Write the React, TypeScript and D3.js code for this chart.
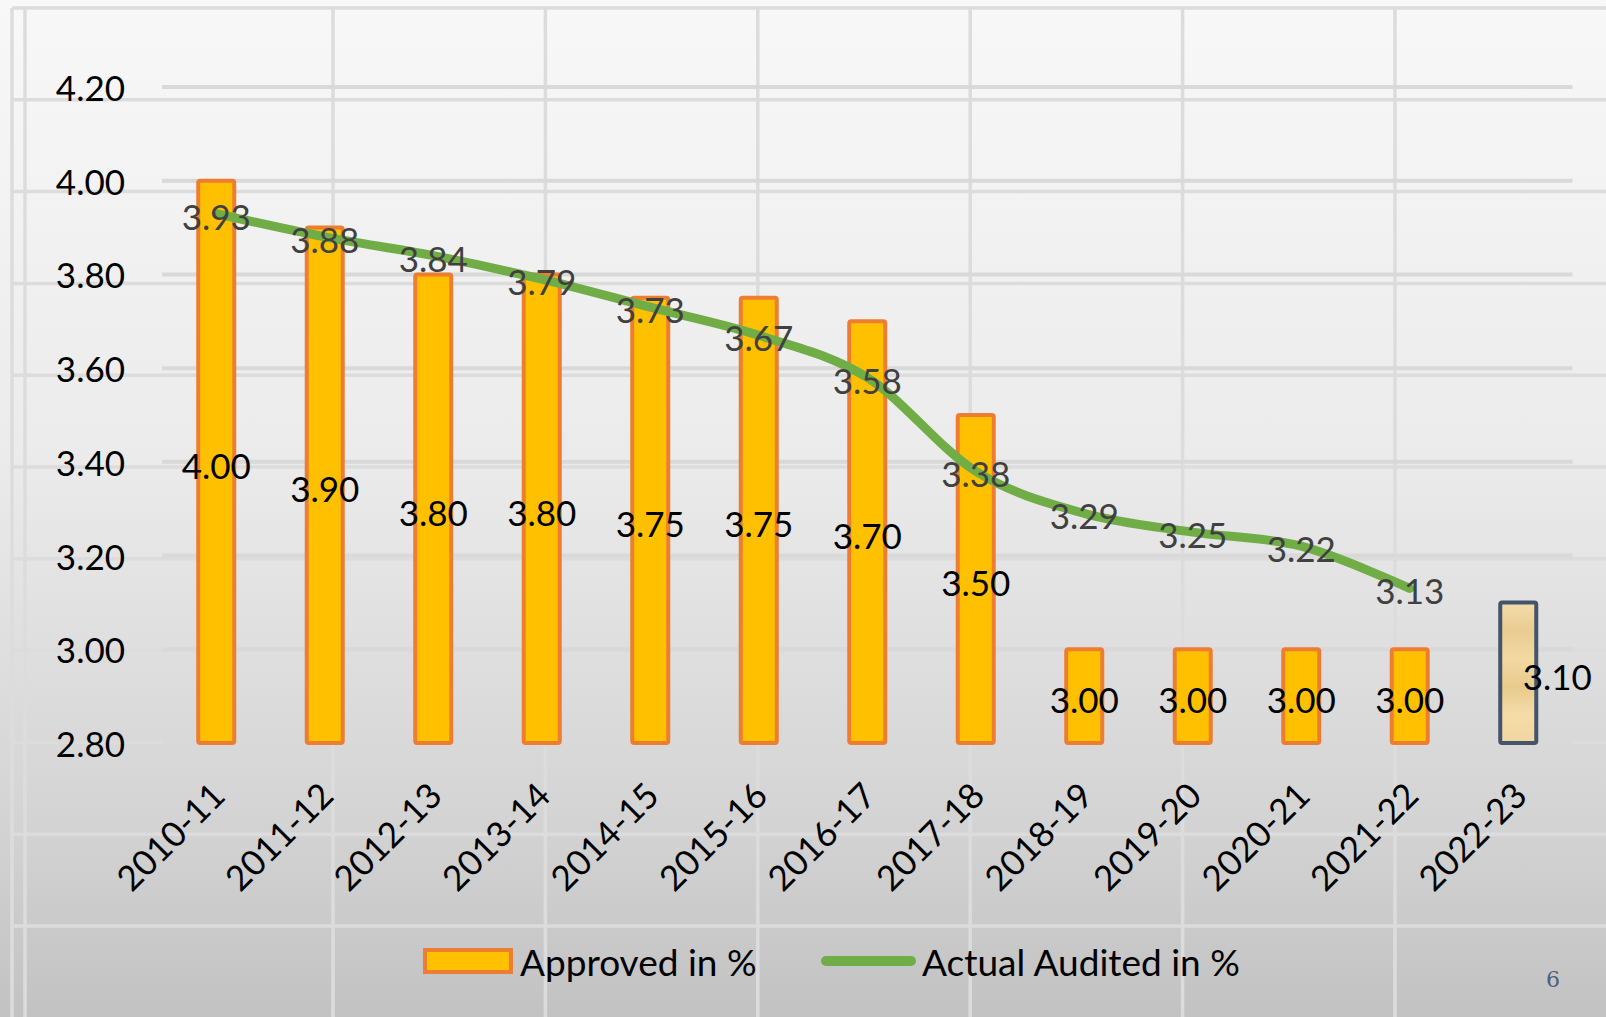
import { useMemo } from "react";
import * as d3 from "d3";

const years = [
  "2010-11", "2011-12", "2012-13", "2013-14", "2014-15", "2015-16", "2016-17",
  "2017-18", "2018-19", "2019-20", "2020-21", "2021-22", "2022-23",
];
const approved = [4.0, 3.9, 3.8, 3.8, 3.75, 3.75, 3.7, 3.5, 3.0, 3.0, 3.0, 3.0, 3.1];
const audited = [3.93, 3.88, 3.84, 3.79, 3.73, 3.67, 3.58, 3.38, 3.29, 3.25, 3.22, 3.13];
const yTicks = [2.8, 3.0, 3.2, 3.4, 3.6, 3.8, 4.0, 4.2];

const width = 1606;
const height = 1017;
const plot = { left: 162, right: 1572.5, top: 87, bottom: 743 };
const font = "Lato, 'Open Sans', sans-serif";

const App = () => {
  const xScale = d3
    .scaleBand()
    .domain(years)
    .range([plot.left, plot.right])
    .paddingInner(0.668)
    .paddingOuter(0.334);

  const yScale = d3.scaleLinear().domain([2.8, 4.2]).range([plot.bottom, plot.top]);

  const cx = (d: string) => (xScale(d) as number) + xScale.bandwidth() / 2;

  const linePath = useMemo(
    () =>
      d3
        .line<number>()
        .x((_, i) => cx(years[i]))
        .y((d) => yScale(d))
        .curve(d3.curveCardinal)(audited),
    []
  );

  // slide background lines
  const bgV = [12, 25, ...d3.range(0, 6).map((i) => 333 + i * 212.4)];
  const bgH = d3.range(0, 11).map((i) => 8 + i * 91.8);

  const last = years.length - 1;

  return (
    <svg
      width={width}
      height={height}
      viewBox={`0 0 ${width} ${height}`}
      style={{ position: "absolute", left: 0, top: 0 }}
    >
      <defs>
        <linearGradient id="bg" x1="0" y1="0" x2="0" y2="1">
          <stop offset="0" stopColor="#f8f8f8" />
          <stop offset="0.45" stopColor="#ebebeb" />
          <stop offset="0.8" stopColor="#d4d4d4" />
          <stop offset="1" stopColor="#c2c2c2" />
        </linearGradient>
        <linearGradient id="tan" x1="0" y1="0" x2="0" y2="1">
          <stop offset="0" stopColor="#f3ddab" />
          <stop offset="0.2" stopColor="#e9cc90" />
          <stop offset="0.4" stopColor="#f2d9a2" />
          <stop offset="0.6" stopColor="#e8ca8c" />
          <stop offset="0.8" stopColor="#f4dcaa" />
          <stop offset="1" stopColor="#f0d6a0" />
        </linearGradient>
      </defs>
      <rect width={width} height={height} fill="url(#bg)" />
      <g className="bg-lines" stroke="#dcdcdc" strokeWidth={3.5}>
        {bgV.map((x, i) => (
          <line key={`v${i}`} x1={x} x2={x} y1={8} y2={height} />
        ))}
        {bgH.map((y, i) => (
          <line key={`h${i}`} x1={12} x2={width} y1={y} y2={y} />
        ))}
      </g>

      <g className="grid" stroke="#d9d9d9" strokeWidth={4}>
        {yTicks.map((t) => (
          <line key={t} x1={plot.left} x2={plot.right} y1={yScale(t)} y2={yScale(t)} />
        ))}
      </g>

      <g className="y-axis" fontFamily={font} fontSize={35} fill="#000" textAnchor="end">
        {yTicks.map((t) => (
          <text key={t} x={125} y={yScale(t)} dominantBaseline="central">
            {t.toFixed(2)}
          </text>
        ))}
      </g>

      <g className="bars">
        {approved.map((v, i) => (
          <rect
            key={years[i]}
            x={xScale(years[i])}
            y={yScale(v)}
            width={xScale.bandwidth()}
            height={plot.bottom - yScale(v)}
            rx={2}
            fill={i === last ? "url(#tan)" : "#ffc000"}
            stroke={i === last ? "#44546a" : "#ed7d31"}
            strokeWidth={4}
          />
        ))}
      </g>

      <path d={linePath ?? ""} fill="none" stroke="#70ad47" strokeWidth={9} strokeLinecap="round" strokeLinejoin="round" />

      <g className="bar-labels" fontFamily={font} fontSize={35} fill="#000" textAnchor="middle">
        {approved.map((v, i) => (
          <text
            key={years[i]}
            x={cx(years[i]) + (i === last ? 39 : 0)}
            y={(yScale(v) + plot.bottom) / 2 + 3}
            dominantBaseline="central"
          >
            {v.toFixed(2)}
          </text>
        ))}
      </g>

      <g className="line-labels" fontFamily={font} fontSize={35} fill="#404040" textAnchor="middle">
        {audited.map((v, i) => (
          <text key={years[i]} x={cx(years[i])} y={yScale(v) + 2} dominantBaseline="central">
            {v.toFixed(2)}
          </text>
        ))}
      </g>

      <g className="x-axis" fontFamily={font} fontSize={35} fill="#000" textAnchor="end">
        {years.map((d) => (
          <text
            key={d}
            transform={`translate(${cx(d) + 1},${plot.bottom + 45}) rotate(-45)`}
            dominantBaseline="central"
          >
            {d}
          </text>
        ))}
      </g>

      <g className="legend" fontFamily={font} fontSize={37} fill="#000">
        <rect x={425} y={950} width={86} height={22} fill="#ffc000" stroke="#ed7d31" strokeWidth={4} />
        <text x={520} y={961} dominantBaseline="central">Approved in %</text>
        <line x1={826} x2={911} y1={961} y2={961} stroke="#70ad47" strokeWidth={10} strokeLinecap="round" />
        <text x={922} y={961} dominantBaseline="central">Actual Audited in %</text>
      </g>

      <text x={1553} y={979} fontFamily="'DejaVu Serif', serif" fontSize={22} fill="#4a5f7e" textAnchor="middle" dominantBaseline="central">
        6
      </text>
    </svg>
  );
};

export default App;
